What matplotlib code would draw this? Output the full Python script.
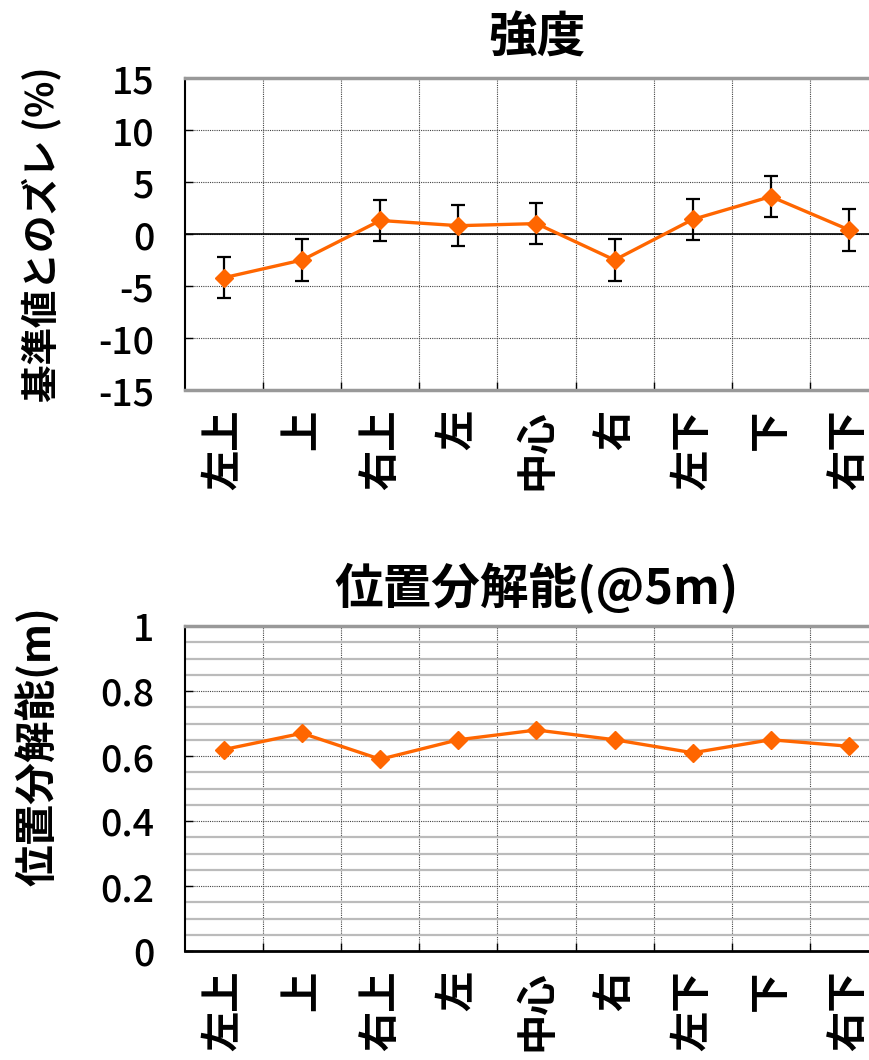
import numpy as np
import matplotlib
matplotlib.use("Agg")
from matplotlib import pyplot as plt
from matplotlib.ticker import MultipleLocator, FixedLocator, FuncFormatter

plt.rcParams['font.family'] = ['Noto Sans CJK JP', 'DejaVu Sans']
plt.rcParams['axes.unicode_minus'] = False

# measurement positions
positions = ['左上', '上', '右上', '左', '中心', '右', '左下', '下', '右下']

# deviation of intensity from the reference value (%)
intensity_dev = [-4.2, -2.5, 1.3, 0.8, 1.0, -2.5, 1.4, 3.6, 0.4]
intensity_err = [2.0, 2.0, 2.0, 2.0, 2.0, 2.0, 2.0, 2.0, 2.0]

# position resolution at 5 m (m)
resolution = [0.62, 0.67, 0.59, 0.65, 0.68, 0.65, 0.61, 0.65, 0.63]

ORANGE = '#FF6600'
W, H = 870, 1060


def style_axes(ax):
    x = np.arange(len(positions))
    ax.set_xlim(-0.5, len(positions) - 0.5)
    ax.set_xticks(x)
    ax.set_xticklabels(positions, rotation=90, fontsize=29, fontweight='bold')
    ax.xaxis.set_minor_locator(FixedLocator(np.arange(len(positions) - 1) + 0.5))
    ax.tick_params(axis='x', which='major', length=0, pad=14)
    ax.tick_params(axis='x', which='minor', direction='in', length=6, width=1, color='black')
    ax.tick_params(axis='y', which='major', direction='in', length=6, width=1,
                   labelsize=27, pad=22)
    ax.tick_params(axis='y', which='minor', length=0)
    ax.grid(True, axis='x', which='minor', color='#444444', linestyle=(0, (1, 1)), linewidth=0.8)
    ax.spines['left'].set_color('black')
    ax.spines['left'].set_linewidth(1.5)
    ax.spines['top'].set_color('#999999')
    ax.spines['top'].set_linewidth(2.5)
    ax.spines['right'].set_visible(False)
    for lab in ax.get_yticklabels():
        lab.set_fontweight('medium')
    ax.set_axisbelow(True)


fig = plt.figure(figsize=(W / 100, H / 100), dpi=100)
x = np.arange(len(positions))

# intensity chart
ax1 = fig.add_axes([185 / W, 1 - 390 / H, 703 / W, 312 / H])
ax1.set_ylim(-15, 15)
ax1.yaxis.set_major_locator(MultipleLocator(5))
style_axes(ax1)
ax1.grid(True, axis='y', which='major', color='#444444', linestyle=(0, (1, 1)), linewidth=0.8)
ax1.axhline(0, color='black', linewidth=1.2, zorder=2)
ax1.spines['bottom'].set_color('#999999')
ax1.spines['bottom'].set_linewidth(2.5)
ax1.errorbar(x, intensity_dev, yerr=intensity_err, color=ORANGE, linewidth=2.4,
             marker='D', markersize=9, ecolor='black', elinewidth=1.6,
             capsize=5, capthick=1.6, zorder=3)
ax1.set_title('強度', fontsize=35, fontweight='bold', pad=18)
ax1.set_ylabel('基準値とのズレ (%)', fontsize=27, fontweight='bold')
ax1.yaxis.set_label_coords(-0.176, 0.5)

# position resolution chart
ax2 = fig.add_axes([185 / W, 1 - 951 / H, 703 / W, 325 / H])
ax2.set_ylim(0, 1)
ax2.yaxis.set_major_locator(MultipleLocator(0.2))
ax2.yaxis.set_minor_locator(MultipleLocator(0.05))
ax2.yaxis.set_major_formatter(FuncFormatter(lambda v, p: f'{v:g}'))
style_axes(ax2)
ax2.grid(True, axis='y', which='minor', color='#BBBBBB', linestyle='-', linewidth=1.6)
ax2.grid(True, axis='y', which='major', color='#444444', linestyle=(0, (1, 1)), linewidth=0.8)
ax2.spines['bottom'].set_color('black')
ax2.spines['bottom'].set_linewidth(2)
ax2.plot(x, resolution, color=ORANGE, linewidth=2.4, marker='D', markersize=9, zorder=3)
ax2.set_title('位置分解能(@5m)', fontsize=35, fontweight='bold', pad=16)
ax2.set_ylabel('位置分解能(m)', fontsize=30, fontweight='bold')
ax2.yaxis.set_label_coords(-0.178, 0.63)

fig.savefig('out.png', dpi=100)
